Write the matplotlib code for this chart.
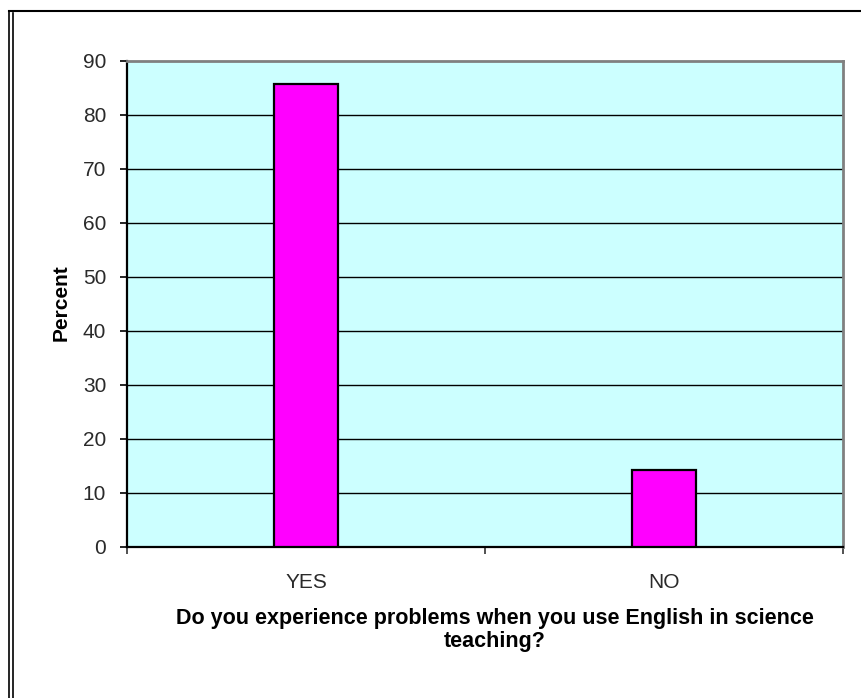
import matplotlib
matplotlib.use('Agg')
from matplotlib import pyplot as plt
from matplotlib.lines import Line2D
import numpy as np

# survey answers (percent of respondents)
answers = ['YES', 'NO']
percent = [85.7, 14.3]
y_ticks = [0, 10, 20, 30, 40, 50, 60, 70, 80, 90]

plt.rcParams['font.family'] = ['Liberation Sans', 'DejaVu Sans']

fig = plt.figure(figsize=(8.61, 6.98), dpi=100)
ax = fig.add_axes([127 / 861, 1 - 547 / 698, 716 / 861, 486 / 698])
ax.set_facecolor('#CCFFFF')

x = np.arange(len(answers))
ax.bar(x, percent, width=0.176, color='#FF00FF', edgecolor='black',
       linewidth=1.6, zorder=3)

ax.set_xlim(-0.5, len(answers) - 0.5)
ax.set_ylim(0, 90)
ax.set_yticks(y_ticks)
ax.set_yticklabels([str(v) for v in y_ticks], fontsize=15)

# horizontal gridlines (top one is the plot frame)
for v in y_ticks[1:-1]:
    ax.axhline(v, color='black', linewidth=1.0, zorder=1)

# category labels and tick marks at the category boundaries
ax.set_xticks([-0.5, 0.5, 1.5])
ax.set_xticklabels([])
for i, name in enumerate(answers):
    ax.text(i, -6.5, name, ha='center', va='center', fontsize=15,
            color='#2a2a2a')
ax.tick_params(axis='x', direction='out', length=5, width=1.2, color='#333333')
ax.tick_params(axis='y', direction='out', length=5, width=1.2, pad=10,
               labelcolor='#2a2a2a')

for side in ['top', 'right']:
    ax.spines[side].set_color('#808080')
    ax.spines[side].set_linewidth(2)
for side in ['left', 'bottom']:
    ax.spines[side].set_color('black')
    ax.spines[side].set_linewidth(1.6)

fig.text(61 / 861, 1 - 303 / 698, 'Percent', rotation=90, ha='center',
         va='center', fontsize=15, fontweight='bold')
fig.text(495 / 861, 1 - 630 / 698,
         'Do you experience problems when you use English in science\nteaching?',
         ha='center', va='center', fontsize=15.5, fontweight='bold',
         linespacing=1.1)

# outer frame: single line on top, double line on the left
fig.add_artist(Line2D([9 / 861, 1], [1 - 11 / 698] * 2, color='black',
                      linewidth=1.5, transform=fig.transFigure))
fig.add_artist(Line2D([9 / 861] * 2, [0, 1 - 11 / 698], color='black',
                      linewidth=1.2, transform=fig.transFigure))
fig.add_artist(Line2D([12.5 / 861] * 2, [0, 1 - 13 / 698], color='black',
                      linewidth=1.2, transform=fig.transFigure))

fig.savefig('out.png', dpi=100)
